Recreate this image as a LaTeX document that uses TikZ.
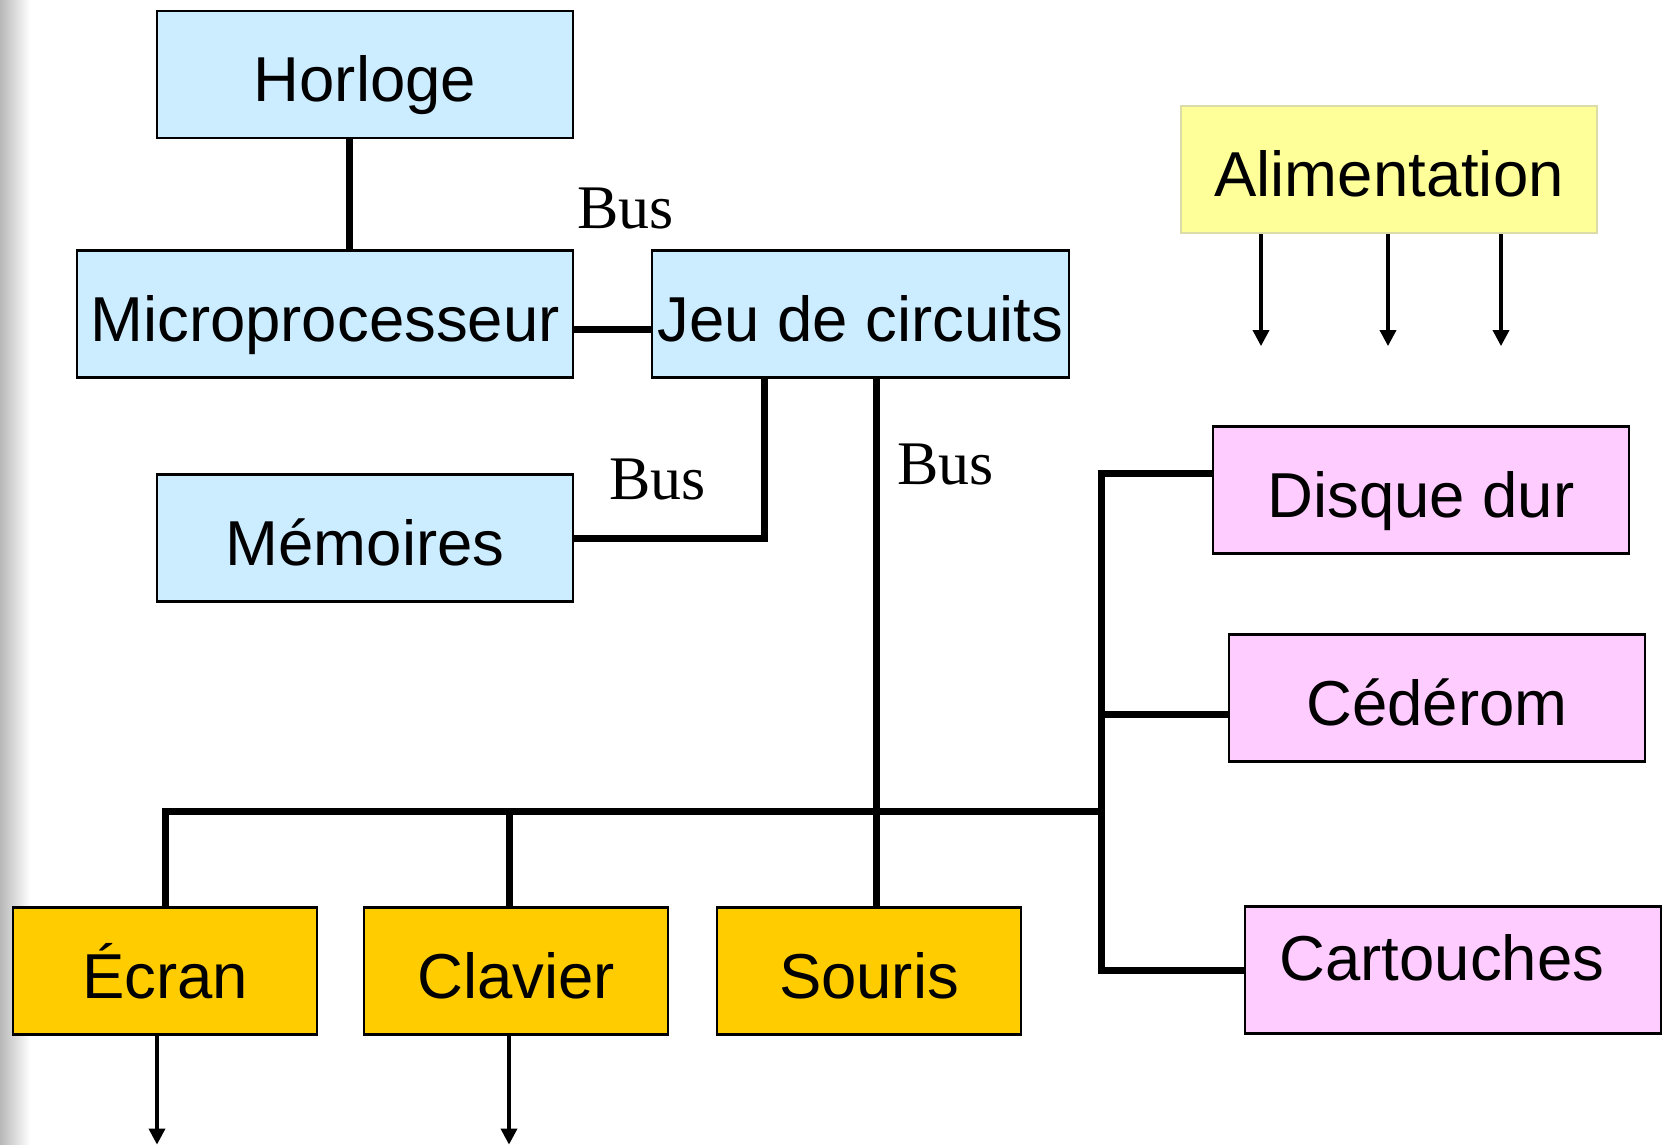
\documentclass[tikz,border=0pt]{standalone}
\usepackage{fontspec}
\setmainfont{Liberation Sans}
\newfontfamily\busfont{Liberation Serif}
\usetikzlibrary{arrows.meta}
\definecolor{boxblue}{HTML}{CCECFF}
\definecolor{boxpink}{HTML}{FFCCFF}
\definecolor{boxgold}{HTML}{FFCC00}
\definecolor{boxyellow}{HTML}{FFFF99}
\definecolor{yellowedge}{HTML}{DCDCA8}
\tikzset{
  unit/.style={draw=black, line width=2.2pt, inner sep=0pt,
    minimum width=416pt, minimum height=127pt,
    text height=74pt, text depth=20pt,
    font=\fontsize{63.5}{70}\selectfont},
  blueunit/.style={unit, fill=boxblue},
  pinkunit/.style={unit, fill=boxpink},
  goldunit/.style={unit, fill=boxgold, minimum width=304pt},
  bus/.style={line width=7pt},
  feed/.style={line width=3.5pt, -{Triangle[width=16pt,length=16pt]}},
  buslabel/.style={inner sep=0pt, anchor=base west,
    font=\busfont\fontsize{62}{70}\selectfont},
}
\begin{document}
\begin{tikzpicture}[x=1pt, y=-1pt]
  \useasboundingbox (0,0) rectangle (1666,1145);
  \fill[white] (0,0) rectangle (1666,1145);
  \shade[left color=black!28, right color=white] (0,0) rectangle (30,1145);

  % units of the machine
  \node[blueunit] (horloge) at (365,74.5) {Horloge};
  \node[blueunit, minimum width=496pt] (micro) at (325,314) {Microprocesseur};
  \node[blueunit, minimum width=417pt] (jeu) at (860.5,314) {Jeu de circuits};
  \node[blueunit] (mem) at (365,538) {Mémoires};
  \node[unit, fill=boxyellow, draw=yellowedge] (alim) at (1389,169.5) {Alimentation};
  \node[pinkunit] (disque) at (1421,490) {Disque dur};
  \node[pinkunit] (cederom) at (1437,698) {Cédérom};
  \node[pinkunit, text height=57pt, text depth=37pt] (cart) at (1453,970)
    {Cartouches\hspace*{22pt}};
  \node[goldunit] (ecran) at (165,971) {Écran};
  \node[goldunit] (clavier) at (516,971) {Clavier};
  \node[goldunit] (souris) at (869,971) {Souris};

  % bus labels
  \node[buslabel] (bus1) at (577,228) {Bus};
  \node[buslabel] (bus2) at (609,499) {Bus};
  \node[buslabel] (bus3) at (897,484.5) {Bus};

  % junction of the peripheral bus
  \coordinate (hub) at (1101,811);
  \coordinate (hd) at ([xshift=-16pt]horloge.south);
  \coordinate (jd) at ([xshift=16pt]jeu.south);

  % buses
  \draw[bus] (hd) -- (hd |- micro.north);
  \draw[bus] ([yshift=-15pt]micro.east) -- ([yshift=-15pt]jeu.west);
  \draw[bus] ([xshift=-96pt]jeu.south) |- (mem.east);
  \draw[bus] (jd) -- (jd |- souris.north);
  \draw[bus] (ecran.north) |- (hub);
  \draw[bus] ([xshift=-7pt]clavier.north) |- (hub);
  \draw[bus] ([yshift=17pt]disque.west) -| (hub |- cart.west) -- (cart.west);
  \draw[bus] ([yshift=-16pt]cederom.west) -| (hub);

  % power and output arrows
  \draw[feed] ([xshift=-128pt]alim.south) -- ++(0,112);
  \draw[feed] ([xshift=-1pt]alim.south) -- ++(0,112);
  \draw[feed] ([xshift=112pt]alim.south) -- ++(0,112);
  \draw[feed] ([xshift=-8pt]ecran.south) -- ++(0,109);
  \draw[feed] ([xshift=-7pt]clavier.south) -- ++(0,109);
\end{tikzpicture}
\end{document}
